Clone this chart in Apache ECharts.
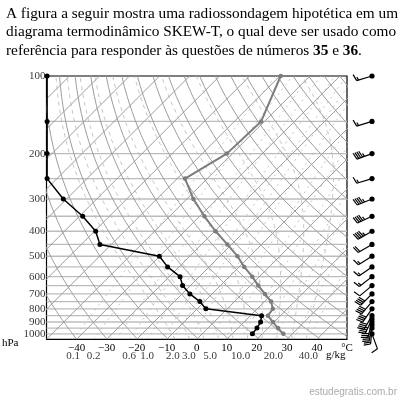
<!DOCTYPE html>
<html>
<head>
<meta charset="utf-8">
<script src="https://cdn.jsdelivr.net/npm/echarts@6/dist/echarts.min.js"></script>
<style>
html,body{margin:0;padding:0;background:#fff}
#main{width:401px;height:399px}
</style>
</head>
<body>
<div id="main"></div>
<script>
// sounding (hPa / degC)
var levels = [100,150,200,250,300,350,400,450,500,550,600,650,700,750,800,850,900,950,1000];
var tempC  = [-59.7,-51.1,-51.8,-57.4,-47.8,-38.4,-29.7,-21.4,-14.1,-8.3,-2.4,2.6,7.6,12.2,15.2,15.8,19.6,23.3,27.0];
var dewC   = [-140,-125,-115,-105,-91.1,-78.9,-69.6,-63.8,-40.1,-33.8,-26.4,-22.6,-17.4,-11.5,-7.1,13.7,15.5,16.3,16.7];

// winds (deg / kt)
var windLevels = [100,150,200,250,300,350,400,450,500,550,600,650,700,750,800,850,875,900,925,950,1000];
var windDir    = [253,253,250,253,248,245,240,240,238,235,232,230,225,220,215,210,205,195,190,185,160];
var windSpd    = [15,15,45,15,45,45,45,20,15,15,15,10,40,40,40,40,35,30,25,20,10];

// axis labels
var pLabels = [100,200,300,400,500,600,700,800,900,1000];
var mixLabels = [0.1,0.2,0.6,1.0,2.0,3.0,5.0,10.0,20.0,40.0];
var mixLines = [0.1,0.2,0.4,0.6,1,1.5,2,3,5,7,10,15,20,30,40];
var moistLines = [-10,-5,0,5,10,15,20,25,30,35];

var PBOT = 1050, PTOP = 100;
var K = 37.27; // skew, degC per ln(p)

function skewX(t, p) { return t + K * Math.log(PBOT / p); }
function dewFromMix(w, p) {
  var e = w * p / (622 + w);
  var l = Math.log(e / 6.112);
  return 243.5 * l / (17.67 - l);
}
function moistGrad(T, p) {
  var es = 6.112 * Math.exp(17.67 * (T - 273.15) / (T - 29.65));
  var r = 0.622 * es / (p - es);
  return (287 * T + 2.5e6 * r) / (p * (1004 + 2.5e6 * 2.5e6 * r * 0.622 / (287 * T * T)));
}
function moistPath(tw) {
  var out = [], T = tw + 273.15, p = 1000, dp = 5;
  var Td = T, pd = 1000;
  while (pd < PBOT) { Td += moistGrad(Td, pd) * dp; pd += dp; }
  out.push([skewX(Td - 273.15, pd), pd]);
  out.push([skewX(T - 273.15, p), p]);
  while (p > PTOP) {
    var g1 = moistGrad(T, p);
    var g2 = moistGrad(T - g1 * dp, p - dp);
    T -= 0.5 * (g1 + g2) * dp; p -= dp;
    if (p % 25 === 0) out.push([skewX(T - 273.15, p), p]);
  }
  return out;
}

// background lines
var bg = [];
for (var p = 150; p <= 1000; p += 50) {
  bg.push({pts: [[-50, p], [50, p]], c: '#bcbcbc', w: 1.4});
}
for (var t = -140; t <= 50; t += 10) {
  bg.push({pts: [[skewX(t, PBOT), PBOT], [skewX(t, PTOP), PTOP]], c: '#9c9c9c', w: 1});
}
for (var th = 220; th <= 470; th += 10) {
  var a = [];
  for (var q = PBOT; q >= PTOP; q -= 10) {
    a.push([skewX(th * Math.pow(q / 1000, 0.2857) - 273.15, q), q]);
  }
  bg.push({pts: a, c: '#9c9c9c', w: 1});
}
mixLines.forEach(function (w) {
  var a = [];
  for (var q = PBOT; q >= PTOP; q -= 25) a.push([skewX(dewFromMix(w, q), q), q]);
  bg.push({pts: a, c: '#b8b8b8', w: 0.8, dash: [2, 4]});
});
moistLines.forEach(function (tw) {
  bg.push({pts: moistPath(tw), c: '#b8b8b8', w: 0.8, dash: [4, 4]});
});

function clampX(x) { return Math.max(-49.8, x); }
var tempData = levels.map(function (p, i) { return [skewX(tempC[i], p), p]; });
var dewData = levels.map(function (p, i) { return [clampX(skewX(dewC[i], p)), p]; });

function renderBg(params, api) {
  var d = bg[params.dataIndex];
  return {
    type: 'polyline',
    shape: {points: d.pts.map(function (q) { return api.coord(q); })},
    style: {stroke: d.c, lineWidth: d.w, lineDash: d.dash || null, fill: null},
    silent: true
  };
}

function renderBarb(params, api) {
  var i = params.dataIndex;
  var p = windLevels[i], dir = windDir[i] * Math.PI / 180, spd = windSpd[i];
  var y = api.coord([0, p])[1];
  var x = api.coord([50, p])[0] + 25;
  var sx = Math.sin(dir), sy = -Math.cos(dir);
  var L = 16;
  var tx = x + sx * L, ty = y + sy * L;
  var px = -sy, py = sx;
  var bx = px * 0.97 + sx * 0.24, by = py * 0.97 + sy * 0.24;
  var st = {stroke: '#000', lineWidth: 1.2};
  var ch = [{type: 'line', shape: {x1: x, y1: y, x2: tx, y2: ty}, style: st}];
  var rem = Math.round(spd / 5) * 5, pos = 0;
  while (rem >= 10) {
    var ox = tx - sx * pos, oy = ty - sy * pos;
    ch.push({type: 'line', shape: {x1: ox, y1: oy, x2: ox + bx * 7, y2: oy + by * 7}, style: st});
    pos += 2; rem -= 10;
  }
  if (rem >= 5) {
    if (pos === 0) pos = 2;
    var hx = tx - sx * pos, hy = ty - sy * pos;
    ch.push({type: 'line', shape: {x1: hx, y1: hy, x2: hx + bx * 3.5, y2: hy + by * 3.5}, style: st});
  }
  ch.push({type: 'circle', shape: {cx: x, cy: y, r: 2.6}, style: {fill: '#000'}});
  return {type: 'group', children: ch, silent: true};
}

var serif = 'Liberation Serif';
var chart = echarts.init(document.getElementById('main'));
chart.setOption({
  animation: false,
  backgroundColor: '#fff',
  graphic: [
    {type: 'text', left: 6, top: 5, style: {
      text: 'A figura a seguir mostra uma radiossondagem hipotética em um\ndiagrama termodinâmico SKEW-T, o qual deve ser usado como\nreferência para responder às questões de números {b|35} e {b|36}.',
      font: '15.3px ' + serif, fill: '#000', lineHeight: 18.3,
      rich: {b: {fontWeight: 'bold', fontSize: 15.3, fontFamily: serif, lineHeight: 18.3}}
    }},
    {type: 'text', left: 2, top: 338, style: {text: 'hPa', font: '11px ' + serif, fill: '#000'}},
    {type: 'text', left: 326, top: 350, style: {text: 'g/kg', font: '11px ' + serif, fill: '#000'}},
    {type: 'text', right: 4, top: 387, style: {text: 'estudegratis.com.br', font: '10px Liberation Sans', fill: '#ababab'}}
  ],
  grid: {left: 46.5, top: 76, width: 300.5, height: 263.3, show: true, borderColor: '#000', borderWidth: 1.2, backgroundColor: 'transparent'},
  xAxis: {
    type: 'value', min: -50, max: 50, interval: 10,
    axisLine: {show: false}, axisTick: {show: false}, splitLine: {show: false},
    axisLabel: {
      margin: 3, color: '#000', fontFamily: serif, fontSize: 11,
      formatter: function (v) { return v === -50 ? '' : v === 50 ? '\u00b0C' : String(v).replace('-', '\u2212'); }
    }
  },
  yAxis: {
    type: 'log', logBase: 10, min: PTOP, max: PBOT, inverse: true,
    axisLine: {show: false}, axisTick: {show: false}, splitLine: {show: false}, axisLabel: {show: false}
  },
  series: [
    {type: 'custom', renderItem: renderBg, clip: true, data: bg.map(function () { return [0, 500]; }), z: 1},
    {type: 'line', data: tempData, clip: false, z: 3,
      lineStyle: {color: '#7c7c7c', width: 2}, itemStyle: {color: '#7c7c7c'},
      symbol: 'circle', symbolSize: 4.5, showAllSymbol: true},
    {type: 'line', data: dewData, clip: false, z: 4,
      lineStyle: {color: '#000', width: 1.5}, itemStyle: {color: '#000'},
      symbol: 'circle', symbolSize: 5, showAllSymbol: true},
    {type: 'custom', renderItem: renderBarb, clip: false, data: windLevels.map(function (p) { return [0, p]; }), z: 5},
    {type: 'scatter', symbolSize: 0, clip: false, silent: true,
      data: pLabels.map(function (p) { return [-50, p]; }),
      label: {show: true, position: 'left', distance: 1, color: '#000', fontFamily: serif, fontSize: 11,
        formatter: function (o) { return o.value[1]; }}},
    {type: 'scatter', symbolSize: 0, clip: false, silent: true,
      data: mixLabels.map(function (w) { return [skewX(dewFromMix(w, PBOT), PBOT), PBOT]; }),
      label: {show: true, position: 'bottom', distance: 11, color: '#000', fontFamily: serif, fontSize: 11,
        formatter: function (o) { return mixLabels[o.dataIndex].toFixed(1); }}}
  ]
});
</script>
</body>
</html>
